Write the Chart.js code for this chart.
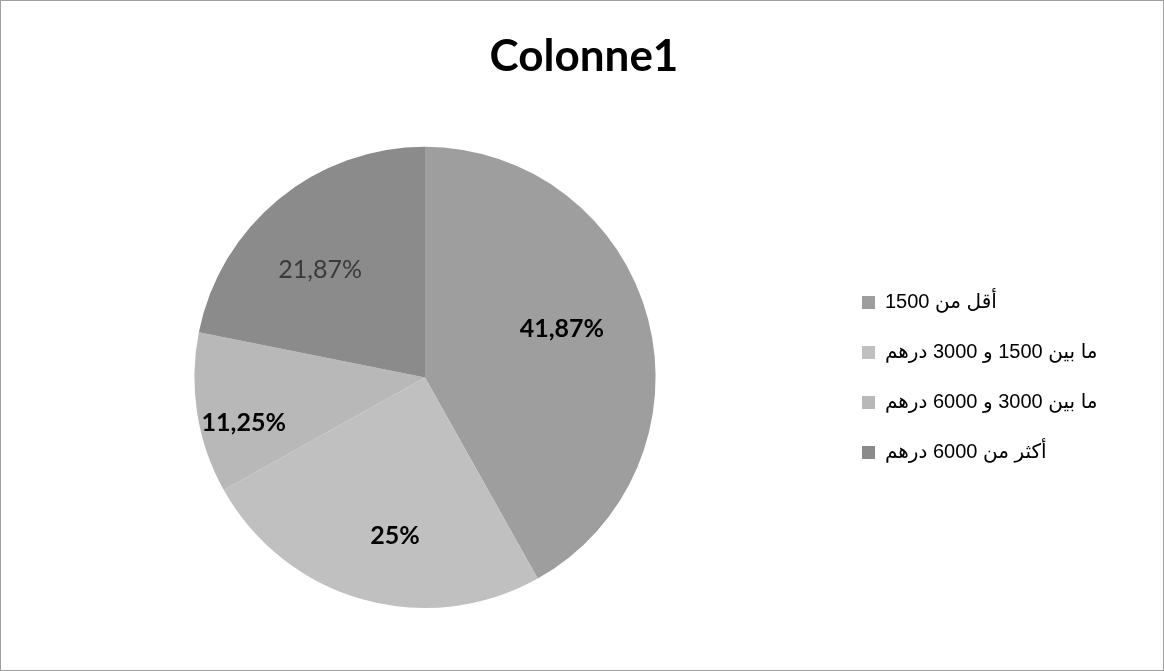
<!DOCTYPE html>
<html>
<head>
<meta charset="utf-8">
<script src="https://cdn.jsdelivr.net/npm/chart.js@4/dist/chart.umd.min.js"></script>
<style>
  html, body { margin: 0; padding: 0; background: #fff; }
  #wrap { position: relative; width: 1164px; height: 671px; box-sizing: border-box; border: 1px solid #a0a0a0; }
  #chart { display: block; }
</style>
</head>
<body>
<div id="wrap"><canvas id="chart" width="1162" height="669"></canvas></div>
<script>
// Colonne1 - income ranges (pie)
const categories = ['أقل من 1500', 'ما بين 1500 و 3000 درهم', 'ما بين 3000 و 6000 درهم', 'أكثر من 6000 درهم'];
const values = [41.87, 25, 11.25, 21.87];
const valueLabels = ['41,87%', '25%', '11,25%', '21,87%'];
const sliceColors = ['#9e9e9e', '#c0c0c0', '#b8b8b8', '#8b8b8b'];

// per-slice label look (Excel's best-fit placement)
const labelRadius = [0.63, 0.70, 0.81, 0.65];
const labelBold = [true, true, true, false];
const labelColor = ['#000', '#000', '#000', '#3a3a3a'];
const LABEL_TURN = -5 * Math.PI / 180;   // labels sit a little anticlockwise of mid-slice

const sliceLabels = {
  id: 'sliceLabels',
  afterDatasetsDraw(chart) {
    const ctx = chart.ctx;
    const meta = chart.getDatasetMeta(0);
    ctx.save();
    ctx.textAlign = 'center';
    ctx.textBaseline = 'middle';
    meta.data.forEach((arc, i) => {
      const p = arc.getProps(['x', 'y', 'startAngle', 'endAngle', 'outerRadius'], true);
      const mid = (p.startAngle + p.endAngle) / 2 + LABEL_TURN;
      const r = p.outerRadius * labelRadius[i];
      ctx.font = (labelBold[i] ? 'bold ' : '') + '25px Lato, "Open Sans", sans-serif';
      ctx.fillStyle = labelColor[i];
      ctx.fillText(valueLabels[i], p.x + Math.cos(mid) * r, p.y + Math.sin(mid) * r);
    });
    ctx.restore();
  }
};

// widen the legend box so the pie sits left of centre like the original
const LEGEND_W = 318;
const legendWidth = {
  id: 'legendWidth',
  beforeLayout(chart) {
    const lg = chart.legend;
    if (lg && !lg._wide) {
      const fit = lg.fit;
      lg.fit = function () { fit.call(this); this.width = LEGEND_W; };
      lg._wide = true;
    }
  }
};

new Chart(document.getElementById('chart'), {
  type: 'pie',
  data: {
    labels: categories,
    datasets: [{
      data: values,
      backgroundColor: sliceColors,
      borderWidth: 0
    }]
  },
  options: {
    responsive: false,
    animation: false,
    layout: { padding: { top: 10, bottom: 62, left: 17, right: 13 } },
    plugins: {
      title: {
        display: true,
        text: 'Colonne1',
        color: '#000',
        font: { family: 'Lato, "Open Sans", sans-serif', size: 44, weight: 'bold' },
        padding: { top: 19, bottom: 64 }
      },
      legend: {
        position: 'right',
        fullSize: false,
        labels: {
          color: '#000',
          font: { family: '"Liberation Sans", Arial, "DejaVu Sans", sans-serif', size: 20 },
          boxWidth: 13,
          boxHeight: 13,
          padding: 30
        }
      },
      tooltip: { enabled: false }
    }
  },
  plugins: [sliceLabels, legendWidth]
});
</script>
</body>
</html>
